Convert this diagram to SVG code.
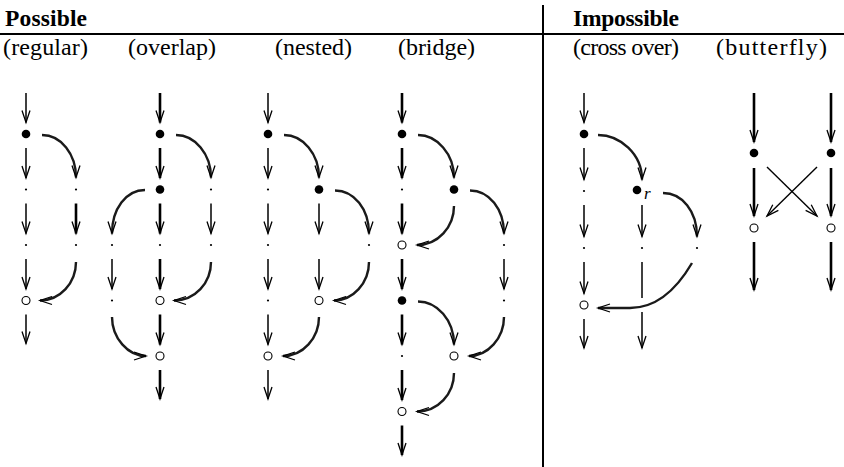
<svg xmlns="http://www.w3.org/2000/svg" width="844" height="467" viewBox="0 0 844 467">
<defs>
<marker id="ah" markerUnits="userSpaceOnUse" markerWidth="30" markerHeight="30" refX="0" refY="0" orient="auto" overflow="visible">
<path d="M-12,-4 L0,0 L-12,4" fill="none" stroke="#000" stroke-width="1.3"/>
</marker>
</defs>
<style>
text{font-family:"Liberation Serif","Times New Roman",serif;fill:#000}
.h{font-size:23.5px;font-weight:bold}
.l{font-size:24px}
.r{font-size:17px;font-style:italic}
.t{stroke:#000;stroke-width:1.5;fill:none}
.k{stroke:#000;stroke-width:2.6;fill:none}
.a{marker-end:url(#ah)}
.c{stroke:#1a1a1a;stroke-width:2.4;fill:none;marker-end:url(#ah)}
.f{fill:#000}
.o{fill:#fff;stroke:#000;stroke-width:1.1}
.d{fill:#000}
.x{stroke:#000;stroke-width:1.4;fill:none;marker-end:url(#ah)}
</style>
<rect width="844" height="467" fill="#fff"/>
<g id="frame">
<line x1="0" y1="34" x2="844" y2="34" stroke="#000" stroke-width="2"/>
<line x1="543" y1="5" x2="543" y2="467" stroke="#000" stroke-width="2"/>
<text class="h" x="5" y="26" textLength="82" lengthAdjust="spacing">Possible</text>
<text class="h" x="573" y="26" textLength="106" lengthAdjust="spacing">Impossible</text>
<text class="l" x="3" y="55" textLength="85" lengthAdjust="spacing">(regular)</text>
<text class="l" x="128" y="55" textLength="88" lengthAdjust="spacing">(overlap)</text>
<text class="l" x="275" y="55" textLength="77" lengthAdjust="spacing">(nested)</text>
<text class="l" x="398" y="55" textLength="77" lengthAdjust="spacing">(bridge)</text>
<text class="l" x="573" y="55" textLength="106" lengthAdjust="spacing">(cross over)</text>
<text class="l" x="716" y="55" textLength="111" lengthAdjust="spacing">(butterfly)</text>
</g>
<g id="connectors">
<!-- regular -->
<g class="t a">
<line x1="26" y1="93" x2="26" y2="122.5"/>
<line x1="26" y1="148" x2="26" y2="178"/>
<line x1="26" y1="203.5" x2="26" y2="233.5"/>
<line x1="26" y1="259" x2="26" y2="289"/>
<line x1="26" y1="314.5" x2="26" y2="343.5"/>
</g>
<line class="k a" x1="76" y1="203.5" x2="76" y2="233.5"/>
<path class="c" d="M42,135 C61,135 76,154 76,177.5"/>
<path class="c" d="M76,262 C76,283 60,300.5 40,300.5"/>
<!-- overlap -->
<g class="k a">
<line x1="160" y1="93" x2="160" y2="122.5"/>
<line x1="160" y1="148" x2="160" y2="178"/>
<line x1="160" y1="203.5" x2="160" y2="233.5"/>
<line x1="160" y1="259" x2="160" y2="289"/>
<line x1="160" y1="314.5" x2="160" y2="344.5"/>
<line x1="160" y1="370" x2="160" y2="399"/>
</g>
<line class="t a" x1="211" y1="203.5" x2="211" y2="233.5"/>
<line class="t a" x1="112" y1="259" x2="112" y2="289"/>
<path class="c" d="M176,135 C195,135 211,154 211,177.5"/>
<path class="c" d="M211,262 C211,283 195,300.5 174,300.5"/>
<path class="c" d="M145,190 C126,190 112,209 112,233.5"/>
<path class="c" d="M112,317 C112,338 128,356 146,356"/>
<!-- nested -->
<g class="t a">
<line x1="268" y1="93" x2="268" y2="122.5"/>
<line x1="268" y1="148" x2="268" y2="178"/>
<line x1="268" y1="203.5" x2="268" y2="233.5"/>
<line x1="268" y1="259" x2="268" y2="289"/>
<line x1="268" y1="314.5" x2="268" y2="344.5"/>
<line x1="268" y1="370" x2="268" y2="399"/>
<line x1="319" y1="203.5" x2="319" y2="233.5"/>
<line x1="319" y1="259" x2="319" y2="289"/>
</g>
<path class="c" d="M284,135 C303,135 319,154 319,177.5"/>
<path class="c" d="M319,317 C319,338 303,356 283,356"/>
<path class="c" d="M335,190.5 C354,190.5 369,209 369,233.5"/>
<path class="c" d="M369,262 C369,283 353,300.5 334,300.5"/>
<!-- bridge -->
<g class="k a">
<line x1="402" y1="93" x2="402" y2="122.5"/>
<line x1="402" y1="148" x2="402" y2="178"/>
<line x1="402" y1="203.5" x2="402" y2="233.5"/>
<line x1="402" y1="259" x2="402" y2="289"/>
<line x1="402" y1="314.5" x2="402" y2="344.5"/>
<line x1="402" y1="370" x2="402" y2="400"/>
<line x1="402" y1="425.5" x2="402" y2="455"/>
</g>
<line class="t a" x1="504" y1="259" x2="504" y2="289"/>
<path class="c" d="M418,135 C437,135 454,154 454,177.5"/>
<path class="c" d="M454,206 C454,227 438,245 417,245"/>
<path class="c" d="M418,301.5 C437,301.5 454,320 454,344.5"/>
<path class="c" d="M454,373 C454,394 438,411.5 417,411.5"/>
<path class="c" d="M470,190.5 C489,190.5 504,209 504,233.5"/>
<path class="c" d="M504,317 C504,338 488,356 469,356"/>
<!-- cross over -->
<g class="t a">
<line x1="584" y1="93" x2="584" y2="122.5"/>
<line x1="584" y1="148" x2="584" y2="179.5"/>
<line x1="584" y1="205" x2="584" y2="236.5"/>
<line x1="584" y1="262" x2="584" y2="293.5"/>
<line x1="584" y1="319" x2="584" y2="348"/>
<line x1="642" y1="205" x2="642" y2="236.5"/>
<line x1="642" y1="312" x2="642" y2="348"/>
</g>
<line class="t" x1="642" y1="262" x2="642" y2="298"/>
<path class="c" d="M598,135 C620,135 642,154 642,179.5"/>
<path class="c" d="M663,193 C682,193 697,211 697,236.5"/>
<path class="c" d="M692,263 C675,292 655,308 630,308 L598,308"/>
<!-- butterfly -->
<g class="k a">
<line x1="754" y1="93" x2="754" y2="142"/>
<line x1="754" y1="168" x2="754" y2="216"/>
<line x1="754" y1="242" x2="754" y2="290"/>
<line x1="831" y1="93" x2="831" y2="142"/>
<line x1="831" y1="168" x2="831" y2="216"/>
<line x1="831" y1="242" x2="831" y2="290"/>
</g>
<line class="x" x1="767" y1="167" x2="817" y2="216"/>
<line class="x" x1="817" y1="167" x2="767" y2="216"/>
</g>
<g id="regular">
<circle class="f" cx="26" cy="134" r="4.3"/>
<circle class="d" cx="26" cy="189.5" r="1.1"/>
<circle class="d" cx="26" cy="245" r="1.1"/>
<circle class="o" cx="26" cy="300.5" r="4"/>
<circle class="d" cx="76" cy="189.5" r="1.1"/>
<circle class="d" cx="76" cy="245" r="1.1"/>
</g>
<g id="overlap">
<circle class="f" cx="160" cy="134" r="4.3"/>
<circle class="f" cx="160" cy="189.5" r="4.3"/>
<circle class="d" cx="160" cy="245" r="1.1"/>
<circle class="o" cx="160" cy="300.5" r="4"/>
<circle class="o" cx="160" cy="356" r="4"/>
<circle class="d" cx="211" cy="189.5" r="1.1"/>
<circle class="d" cx="211" cy="245" r="1.1"/>
<circle class="d" cx="112" cy="245" r="1.1"/>
<circle class="d" cx="112" cy="300.5" r="1.1"/>
</g>
<g id="nested">
<circle class="f" cx="268" cy="134" r="4.3"/>
<circle class="d" cx="268" cy="189.5" r="1.1"/>
<circle class="d" cx="268" cy="245" r="1.1"/>
<circle class="d" cx="268" cy="300.5" r="1.1"/>
<circle class="o" cx="268" cy="356" r="4"/>
<circle class="f" cx="319" cy="189.5" r="4.3"/>
<circle class="o" cx="319" cy="300.5" r="4"/>
<circle class="d" cx="369" cy="245" r="1.1"/>
</g>
<g id="bridge">
<circle class="f" cx="402" cy="134" r="4.3"/>
<circle class="d" cx="402" cy="189.5" r="1.1"/>
<circle class="o" cx="402" cy="245" r="4"/>
<circle class="f" cx="402" cy="300.5" r="4.3"/>
<circle class="d" cx="402" cy="356" r="1.1"/>
<circle class="o" cx="402" cy="411.5" r="4"/>
<circle class="f" cx="454" cy="189.5" r="4.3"/>
<circle class="o" cx="454" cy="356" r="4"/>
<circle class="d" cx="504" cy="245" r="1.1"/>
<circle class="d" cx="504" cy="300.5" r="1.1"/>
</g>
<g id="crossover">
<circle class="f" cx="584" cy="134" r="4.3"/>
<circle class="d" cx="584" cy="191" r="1.1"/>
<circle class="d" cx="584" cy="248" r="1.1"/>
<circle class="o" cx="584" cy="305" r="4"/>
<circle class="f" cx="637" cy="190" r="4.3"/>
<text class="r" x="644" y="199">r</text>
<circle class="d" cx="642" cy="248" r="1.1"/>
<circle class="d" cx="697" cy="248" r="1.1"/>
</g>
<g id="butterfly">
<circle class="f" cx="754" cy="153" r="4.3"/>
<circle class="f" cx="831" cy="153" r="4.3"/>
<circle class="o" cx="754" cy="228" r="4"/>
<circle class="o" cx="831" cy="228" r="4"/>
</g>
</svg>
